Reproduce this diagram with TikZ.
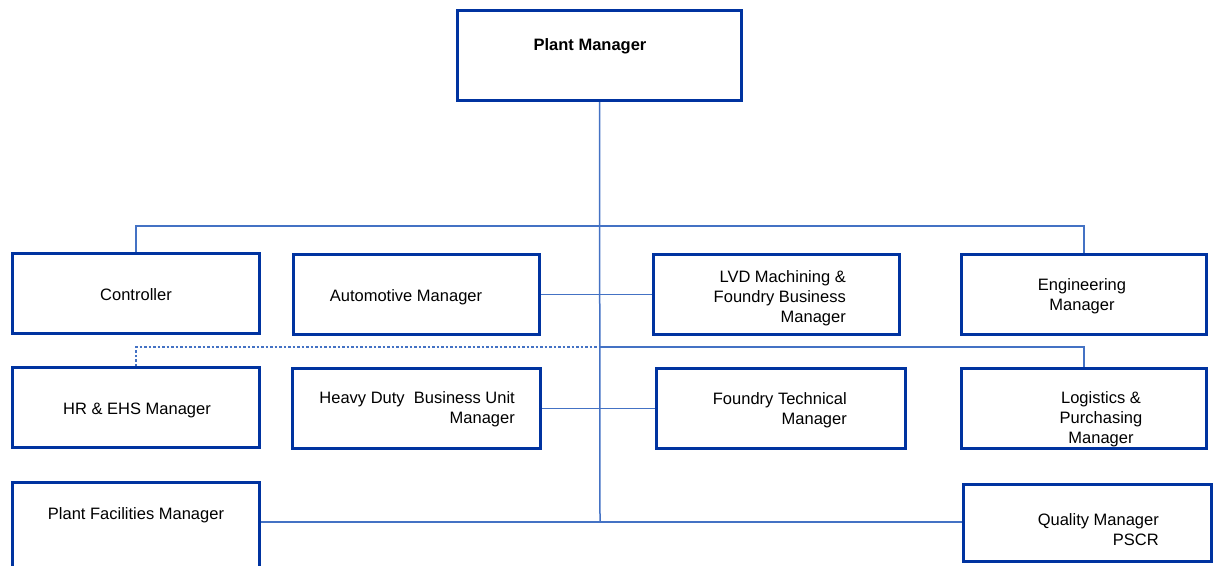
\documentclass[tikz,border=0pt]{standalone}
\usepackage{fontspec}
\setmainfont{Liberation Sans}
\usepackage{xcolor}
\definecolor{boxblue}{HTML}{0033A0}
\definecolor{lineblue}{HTML}{4472C4}

\begin{document}
\begin{tikzpicture}[x=1pt,y=-1pt]
    \def\bw{247pt}
    \def\bh{80pt}
    \def\ty{\fontsize{16.5}{20}\selectfont}

    \tikzstyle{box}=[line width=3pt,draw=boxblue,fill=white,minimum width=\bw,minimum height=\bh,inner sep=0pt]
    \tikzstyle{word}=[inner sep=0pt,font=\ty,align=center,yshift=-1.5pt]
    \tikzstyle{rword}=[inner sep=0pt,font=\ty,align=right,anchor=east,yshift=-1.5pt]
    \tikzstyle{link}=[draw=lineblue,line width=1.5pt]
    \tikzstyle{dlink}=[draw=lineblue,line width=1.5pt,dash pattern=on 2.5pt off 2pt]

    \useasboundingbox (0,0) rectangle (1222,565);

    % junctions on the trunk
    \coordinate (jt) at (600,226);
    \coordinate (jm) at (600,347);
    \coordinate (jb) at (600,522);

    \node[box,minimum width=284pt,minimum height=90pt] (pm) at (599.5,55.5) {};
    \node[word] (pmt) at (590,45) {\bfseries Plant Manager};

    \node[box] (ctrl) at (136,293.5) {};
    \node[word] (ctrlt) at (136,293) {Controller};

    \node[box,minimum width=246pt] (auto) at (416.5,294.5) {};
    \node[word] (autot) at (406,296) {Automotive Manager};

    \node[box,minimum width=246pt] (lvd) at (776.5,294.5) {};
    \node[rword] (lvdt) at (846,297) {LVD Machining \&\\Foundry Business\\Manager};

    \node[box,minimum width=245pt] (eng) at (1084,294.5) {};
    \node[word] (engt) at (1082,295) {Engineering\\Manager};

    \node[box] (hr) at (136,407.5) {};
    \node[word] (hrt) at (137,409) {HR \& EHS Manager};

    \node[box,minimum width=248pt] (hd) at (416.5,408.5) {};
    \node[rword] (hdt) at (515,408) {Heavy Duty\ \ Business Unit\\Manager};

    \node[box,minimum width=249pt] (ft) at (781,408.5) {};
    \node[rword] (ftt) at (847,409) {Foundry Technical\\Manager};

    \node[box,minimum width=245pt] (log) at (1084,408.5) {};
    \node[word] (logt) at (1101,418) {Logistics \&\\Purchasing\\Manager};

    \node[box,minimum height=90pt] (pf) at (136,527.5) {};
    \node[word] (pft) at (136,514) {Plant Facilities Manager};

    \node[box,minimum width=248pt,minimum height=77pt] (qm) at (1087.5,523) {};
    \node[rword] (qmt) at (1159,528) {Quality Manager\\PSCR};

    \draw [link] (pm.south) -- (jb);
    \draw [link] (ctrl.north) |- (jt) -| (eng.north);
    \draw [link] (auto.east) -- (lvd.west);
    \draw [dlink] (hr.north) |- (jm);
    \draw [link] (jm) -| (log.north);
    \draw [link] (hd.east) -- (ft.west);
    \draw [link] (jb -| pf.east) -- (jb -| qm.west);

\end{tikzpicture}
\end{document}
